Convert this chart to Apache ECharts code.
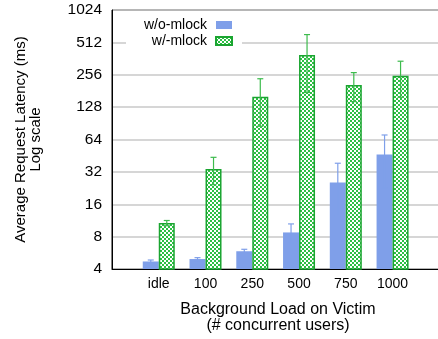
<!DOCTYPE html>
<html>
<head>
<meta charset="utf-8">
<script src="https://cdn.jsdelivr.net/npm/echarts@6/dist/echarts.min.js"></script>
<style>
  html, body { margin: 0; padding: 0; background: #fff; }
  #chart { width: 438px; height: 339px; }
</style>
</head>
<body>
<div id="chart"></div>
<script>
// Background load levels (x categories)
const categories = ['idle', '100', '250', '500', '750', '1000'];
// Mean request latency (ms) and error half-widths for each configuration
const noMlock = [4.7, 4.95, 5.85, 8.75, 25.5, 46.5];
const noMlockErr = [0.15, 0.15, 0.25, 1.75, 13, 24];
const withMlock = [10.7, 34, 160, 390, 206, 250];
const withMlockErr = [0.6, 9.7, 75, 215, 62, 92];
// Y axis ticks (powers of two)
const yTicks = [4, 8, 16, 32, 64, 128, 256, 512, 1024];

const FONT = "'Liberation Sans', Arial, Helvetica, sans-serif";
const BLUE = '#7f9fe9';
const GREEN = '#1aa530';
const BAR_W = 16;

// Checkered green fill for the mlock bars
function checkerPattern() {
  const c = document.createElement('canvas');
  c.width = 4; c.height = 4;
  const g = c.getContext('2d');
  g.fillStyle = '#2dbf44';
  g.fillRect(0, 0, 4, 4);
  g.fillStyle = '#ffffff';
  g.fillRect(0, 0, 2, 2);
  g.fillRect(2, 2, 2, 2);
  return { image: c, repeat: 'repeat' };
}
const pattern = checkerPattern();

function toPairs(vals) { return vals.map((v, i) => [i, v]); }
function errData(vals, errs) { return vals.map((v, i) => [i, v - errs[i], v + errs[i]]); }

function errorBarSeries(name, vals, errs, color, dx) {
  return {
    type: 'custom',
    name: name + '-err',
    z: 5,
    silent: true,
    clip: true,
    data: errData(vals, errs),
    renderItem: function (params, api) {
      const x = api.value(0);
      const lo = api.coord([x, api.value(1)]);
      const hi = api.coord([x, api.value(2)]);
      const cx = lo[0] + dx;
      const cap = 3;
      const style = { stroke: color, lineWidth: 1.2, fill: null };
      return {
        type: 'group',
        children: [
          { type: 'line', shape: { x1: cx, y1: lo[1], x2: cx, y2: hi[1] }, style: style },
          { type: 'line', shape: { x1: cx - cap, y1: hi[1], x2: cx + cap, y2: hi[1] }, style: style },
          { type: 'line', shape: { x1: cx - cap, y1: lo[1], x2: cx + cap, y2: lo[1] }, style: style }
        ]
      };
    }
  };
}

const chart = echarts.init(document.getElementById('chart'), null, { renderer: 'canvas' });

chart.setOption({
  animation: false,
  textStyle: { fontFamily: FONT },
  grid: {
    left: 112, top: 10, right: -6, bottom: 70,
    outerBoundsMode: 'none',
    containLabel: false,
    show: true, borderColor: '#000', borderWidth: 1, backgroundColor: 'transparent'
  },
  legend: {
    orient: 'vertical',
    align: 'right',
    right: 196,
    top: 12,
    padding: [6, 9, 6, 18],
    itemGap: 2,
    itemWidth: 16,
    itemHeight: 8,
    backgroundColor: '#fff',
    textStyle: { fontFamily: FONT, fontSize: 14, color: '#000', padding: [0, 4, 0, 0] },
    data: [
      { name: 'w/o-mlock', icon: 'rect' },
      { name: 'w/-mlock', icon: 'rect' }
    ],
    z: 10
  },
  xAxis: {
    type: 'value',
    min: -1,
    max: 6.1,
    interval: 1,
    axisLine: { show: true, onZero: false, lineStyle: { color: '#000', width: 1 } },
    axisTick: { show: false },
    splitLine: { show: false },
    axisLabel: {
      fontFamily: FONT, fontSize: 14, color: '#000', margin: 8,
      formatter: function (v) { return categories[v] !== undefined ? categories[v] : ''; }
    },
    name: 'Background Load on Victim\n(# concurrent users)',
    nameLocation: 'middle',
    nameGap: 33,
    nameTextStyle: { fontFamily: FONT, fontSize: 16, color: '#000', lineHeight: 16 }
  },
  yAxis: {
    type: 'log',
    logBase: 2,
    min: yTicks[0],
    max: yTicks[yTicks.length - 1],
    interval: 1,
    axisLine: { show: true, onZero: false, lineStyle: { color: '#000', width: 1 } },
    axisTick: { show: false },
    splitLine: { show: true, lineStyle: { color: '#c8c8c8', width: 1.5 } },
    axisLabel: {
      fontFamily: FONT, fontSize: 15.5, color: '#000', margin: 10,
      formatter: function (v) { return String(Math.round(v)); }
    },
    name: 'Average Request Latency (ms)\nLog scale',
    nameLocation: 'middle',
    nameGap: 69,
    nameRotate: 90,
    nameTextStyle: { fontFamily: FONT, fontSize: 15, color: '#000', lineHeight: 15 }
  },
  series: [
    {
      type: 'bar',
      name: 'w/o-mlock',
      barWidth: BAR_W,
      barGap: '0%',
      clip: true,
      itemStyle: { color: BLUE },
      data: toPairs(noMlock)
    },
    {
      type: 'bar',
      name: 'w/-mlock',
      barWidth: BAR_W,
      barGap: '0%',
      clip: true,
      itemStyle: { color: pattern, borderColor: GREEN, borderWidth: 1.5 },
      data: toPairs(withMlock)
    },
    errorBarSeries('w/o-mlock', noMlock, noMlockErr, BLUE, -BAR_W / 2),
    errorBarSeries('w/-mlock', withMlock, withMlockErr, '#3dbb4d', BAR_W / 2)
  ]
});
</script>
</body>
</html>
